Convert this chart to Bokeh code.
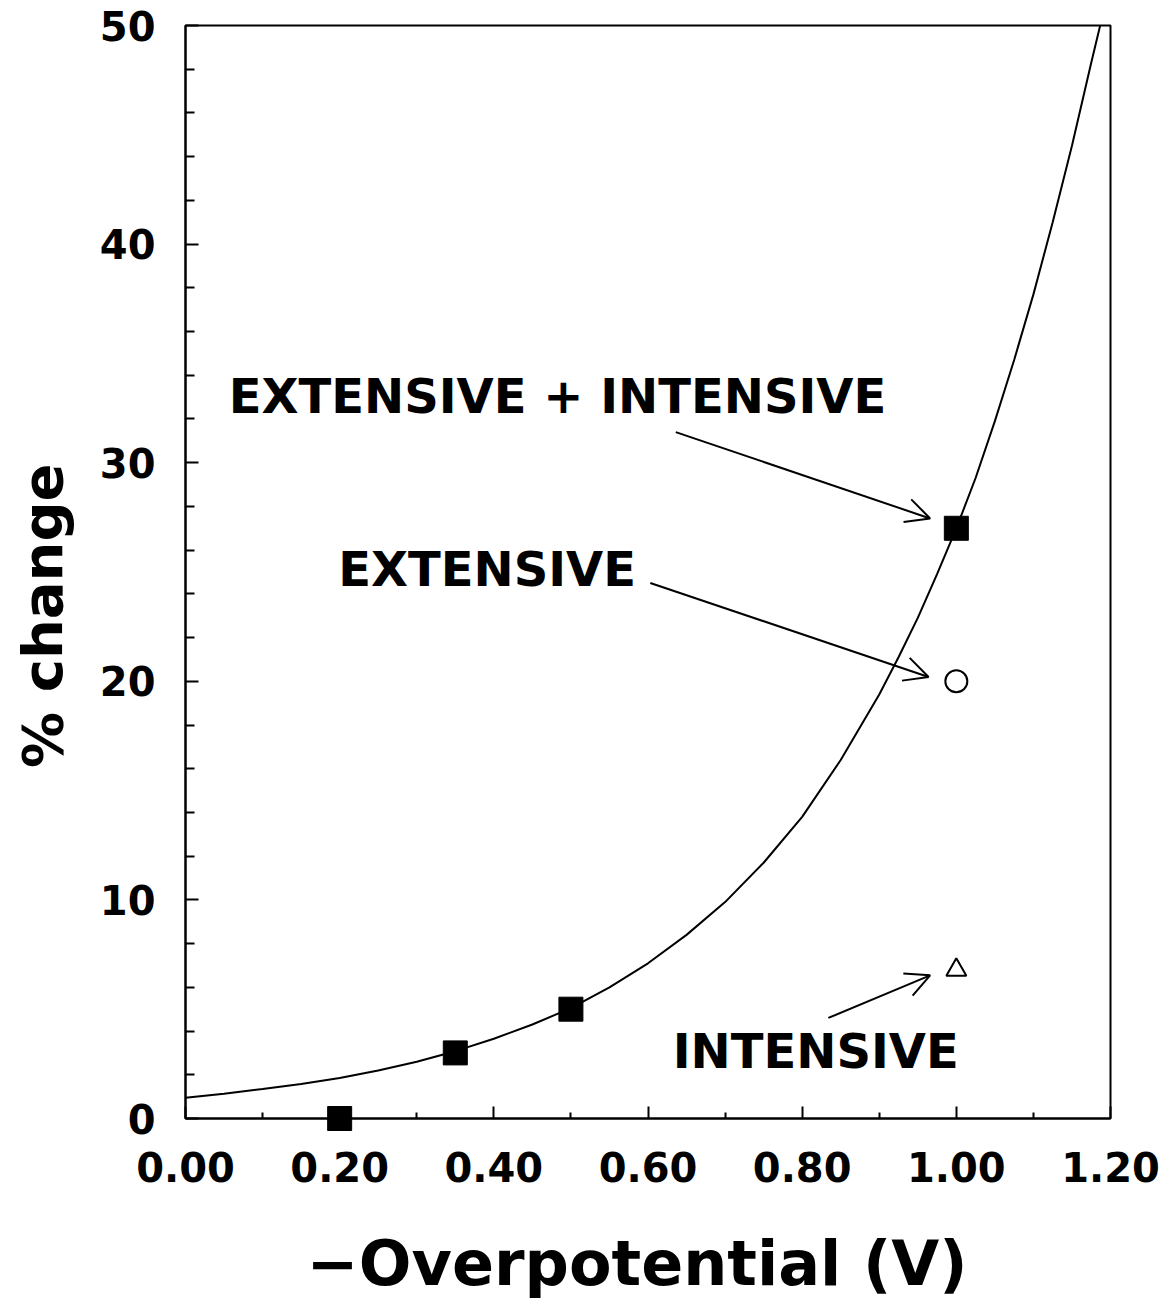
import math
from bokeh.plotting import figure
from bokeh.models import Range1d, FixedTicker, PrintfTickFormatter, Arrow, OpenHead, ColumnDataSource
from bokeh.core.properties import value
from bokeh.embed import file_html
from bokeh.resources import INLINE

# ---- data ----
curve_x = [0.0, 0.05, 0.1, 0.15, 0.2, 0.25, 0.3, 0.35, 0.4, 0.45, 0.5, 0.55, 0.6, 0.65, 0.7,
           0.75, 0.8, 0.85, 0.9, 0.925, 0.95, 0.975, 1.0, 1.025, 1.05, 1.075, 1.1, 1.125,
           1.15, 1.175, 1.19]
curve_y = [0.95, 1.13, 1.35, 1.58, 1.85, 2.2, 2.6, 3.08, 3.65, 4.3, 5.05, 6.0, 7.1, 8.4, 9.9,
           11.7, 13.8, 16.4, 19.4, 21.1, 22.9, 24.9, 27.0, 29.3, 31.9, 34.7, 37.7, 41.0,
           44.5, 48.3, 50.5]

combined_x = [0.2, 0.35, 0.5, 1.0]
combined_y = [0.0, 3.0, 5.0, 27.0]
extensive_x = [1.0]
extensive_y = [20.0]
intensive_x = [1.0]
intensive_y = [6.8]

x_ticks = [0.0, 0.2, 0.4, 0.6, 0.8, 1.0, 1.2]
x_minor = [0.1, 0.3, 0.5, 0.7, 0.9, 1.1]
y_ticks = [0, 10, 20, 30, 40, 50]
y_minor = [2, 4, 6, 8, 12, 14, 16, 18, 22, 24, 26, 28, 32, 34, 36, 38, 42, 44, 46, 48]

label_texts = ["EXTENSIVE + INTENSIVE", "EXTENSIVE", "INTENSIVE"]
label_x = [0.056, 0.198, 0.632]
label_y = [33.05, 25.15, 3.1]

arrow_x0 = [0.636, 0.603, 0.834]
arrow_y0 = [31.4, 24.5, 4.6]
arrow_x1 = [0.966, 0.964, 0.966]
arrow_y1 = [27.45, 20.2, 6.55]

y_title = "% change"
y_title_x = [-0.186]
y_title_y = [23.0]

FONT = "DejaVu Sans"

p = figure(width=1175, height=1308, output_backend="svg", toolbar_location=None,
           x_range=Range1d(0, 1.2), y_range=Range1d(0, 50),
           min_border_left=185, min_border_right=65, min_border_top=25, min_border_bottom=190)
p.background_fill_color = "white"
p.border_fill_color = "white"
p.grid.visible = False
p.outline_line_color = "black"
p.outline_line_width = 2

# axes
xa = p.xaxis[0]
xa.ticker = FixedTicker(ticks=x_ticks, minor_ticks=x_minor)
xa.formatter = PrintfTickFormatter(format="%.2f")
ya = p.yaxis[0]
ya.ticker = FixedTicker(ticks=y_ticks, minor_ticks=y_minor)

for ax in (xa, ya):
    ax.axis_line_color = "black"
    ax.axis_line_width = 2
    ax.major_tick_line_color = "black"
    ax.major_tick_line_width = 2
    ax.minor_tick_line_color = "black"
    ax.minor_tick_line_width = 2
    ax.major_tick_out = 0
    ax.minor_tick_out = 0
    ax.major_label_text_font = FONT
    ax.major_label_text_font_style = "bold"
    ax.major_label_text_font_size = "40px"
    ax.major_label_text_color = "black"
    ax.axis_label_text_font = FONT
    ax.axis_label_text_font_style = "bold"
    ax.axis_label_text_color = "black"

xa.major_tick_in = 12
xa.minor_tick_in = 6
ya.major_tick_in = 13
ya.minor_tick_in = 9
xa.major_label_standoff = 33
ya.major_label_standoff = 30
xa.axis_label = "\u2212Overpotential  (V)"
xa.axis_label_text_font_size = "62px"
xa.axis_label_standoff = 42

# fitted curve
p.line(curve_x, curve_y, line_color="black", line_width=2)

# data points (drawn unclipped so the point on the axis shows fully)
p.scatter(combined_x, combined_y, marker="square", size=24, fill_color="black",
          line_color="black", level="overlay")
p.scatter(extensive_x, extensive_y, marker="circle", size=22, fill_color="white",
          line_color="black", line_width=2, level="overlay")
p.scatter(intensive_x, intensive_y, marker="triangle", size=20, fill_color="white",
          line_color="black", line_width=2, level="overlay")

# labels
lab_src = ColumnDataSource(dict(x=label_x, y=label_y, t=label_texts))
p.text(x="x", y="y", text="t", source=lab_src, text_font=value(FONT), text_font_style="bold",
       text_font_size="48px", text_color="black", text_baseline="alphabetic", text_align="left")

# y-axis title (placed as text so it sits where the reference has it)
p.text(x=y_title_x, y=y_title_y, text=[y_title], angle=math.pi / 2, text_font=value(FONT),
       text_font_style="bold", text_font_size="56px", text_color="black",
       text_baseline="middle", text_align="center", level="overlay")

# arrows
for x0, y0, x1, y1 in zip(arrow_x0, arrow_y0, arrow_x1, arrow_y1):
    p.add_layout(Arrow(x_start=x0, y_start=y0, x_end=x1, y_end=y1, line_color="black",
                       line_width=2, end=OpenHead(size=24, line_color="black", line_width=2)))

open("out.html", "w").write(file_html(p, INLINE))
